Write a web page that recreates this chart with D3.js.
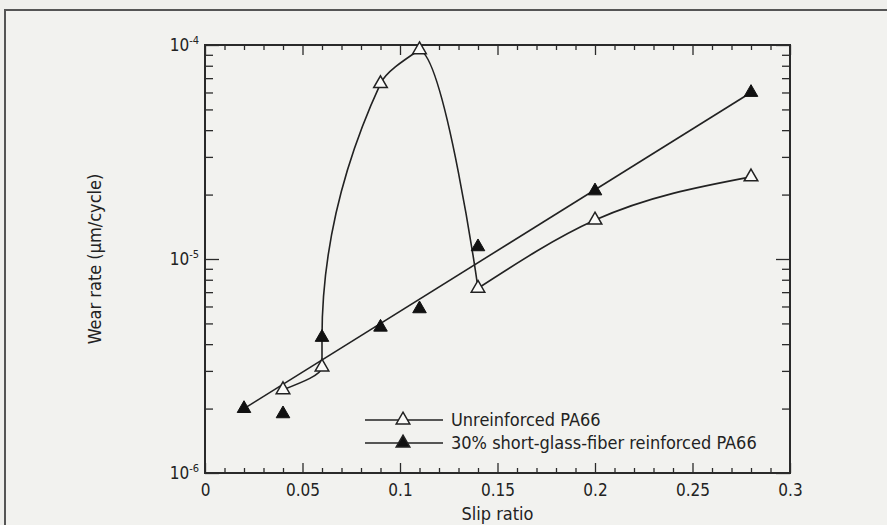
<!DOCTYPE html>
<html>
<head>
<meta charset="utf-8">
<script src="https://cdn.jsdelivr.net/npm/d3@7"></script>
<style>
  body { margin: 0; background: #efefec; }
  text { font-family: "DejaVu Sans Condensed", "Liberation Sans Narrow", sans-serif; fill: #222; }
</style>
</head>
<body>
<div id="wrapper"></div>
<script>
// unreinforced PA66 (open triangles)
const slipPlain = [0.04, 0.06, 0.09, 0.11, 0.14, 0.20, 0.28]
const wearPlain = [2.45e-6, 3.13e-6, 6.6e-5, 9.5e-5, 7.3e-6, 1.52e-5, 2.42e-5]

// 30% short-glass-fiber reinforced PA66 (filled triangles)
const slipGlass = [0.02, 0.04, 0.06, 0.09, 0.11, 0.14, 0.20, 0.28]
const wearGlass = [2.0e-6, 1.89e-6, 4.3e-6, 4.8e-6, 5.85e-6, 1.14e-5, 2.08e-5, 6.0e-5]

// straight fit line through the reinforced data
const fitSlip = [0.02, 0.28]
const fitWear = [2.0e-6, 6.0e-5]

const xMajor = [0, 0.05, 0.1, 0.15, 0.2, 0.25, 0.3]
const xLabels = ['0', '0.05', '0.1', '0.15', '0.2', '0.25', '0.3']
const yMajor = [1e-6, 1e-5, 1e-4]
const yExp = ['-6', '-5', '-4']
const legendNames = ['Unreinforced PA66', '30% short-glass-fiber reinforced PA66']

const width = 887, height = 525
const plotL = 205, plotR = 790, plotT = 45, plotB = 473

const svg = d3.select('#wrapper')
    .append('svg')
        .attr('width', width)
        .attr('height', height)

// outer frame of the figure
svg.append('rect')
    .attr('x', 5).attr('y', 10)
    .attr('width', width).attr('height', height)
    .attr('fill', '#f2f2ef')
    .attr('stroke', '#555')
    .attr('stroke-width', 2)

const x = d3.scaleLinear().domain([0, 0.3]).range([plotL, plotR])
const y = d3.scaleLog().domain([1e-6, 1e-4]).range([plotB, plotT])

const xMinor = d3.range(0, 0.3001, 0.01).filter(v => Math.abs(v / 0.05 - Math.round(v / 0.05)) > 1e-6)
const yMinor = y.ticks().filter(v => !yMajor.some(m => Math.abs(m - v) / m < 1e-6))

function styleAxis(g) {
    g.select('.domain').remove()
    g.selectAll('line').attr('stroke', '#2a2a2a').attr('stroke-width', 1.3)
}

// bottom
svg.append('g').attr('transform', `translate(0,${plotB})`)
    .call(d3.axisBottom(x).tickValues(xMinor).tickSize(-5).tickFormat(''))
    .call(styleAxis)
svg.append('g').attr('transform', `translate(0,${plotB})`)
    .call(d3.axisBottom(x).tickValues(xMajor).tickSize(-10).tickPadding(11)
        .tickFormat((d, i) => xLabels[i]))
    .call(styleAxis)
    .selectAll('text')
        .attr('font-size', 17)
        .attr('fill', '#222')
        .attr('font-family', '"DejaVu Sans Condensed", sans-serif')

// top
svg.append('g').attr('transform', `translate(0,${plotT})`)
    .call(d3.axisTop(x).tickValues(xMinor).tickSize(-5).tickFormat(''))
    .call(styleAxis)
svg.append('g').attr('transform', `translate(0,${plotT})`)
    .call(d3.axisTop(x).tickValues(xMajor).tickSize(-10).tickFormat(''))
    .call(styleAxis)

// left
svg.append('g').attr('transform', `translate(${plotL},0)`)
    .call(d3.axisLeft(y).tickValues(yMinor).tickSize(-8).tickFormat(''))
    .call(styleAxis)
svg.append('g').attr('transform', `translate(${plotL},0)`)
    .call(d3.axisLeft(y).tickValues(yMajor).tickSize(-14).tickFormat(''))
    .call(styleAxis)

// right
svg.append('g').attr('transform', `translate(${plotR},0)`)
    .call(d3.axisRight(y).tickValues(yMinor).tickSize(-8).tickFormat(''))
    .call(styleAxis)
svg.append('g').attr('transform', `translate(${plotR},0)`)
    .call(d3.axisRight(y).tickValues(yMajor).tickSize(-14).tickFormat(''))
    .call(styleAxis)

// plot border
svg.append('rect')
    .attr('x', plotL).attr('y', plotT)
    .attr('width', plotR - plotL).attr('height', plotB - plotT)
    .attr('fill', 'none')
    .attr('stroke', '#2a2a2a')
    .attr('stroke-width', 2)

// y tick labels 10^n
const yLab = svg.append('g').selectAll('text')
    .data(yMajor)
    .join('text')
        .attr('x', plotL - 6)
        .attr('y', d => y(d) + 6)
        .attr('text-anchor', 'end')
        .attr('font-size', 17)
yLab.append('tspan').text('10')
yLab.append('tspan')
    .attr('font-size', 11)
    .attr('dy', -7)
    .text((d, i) => yExp[i])

// axis titles
svg.append('text')
    .attr('x', (plotL + plotR) / 2)
    .attr('y', 520)
    .attr('text-anchor', 'middle')
    .attr('font-size', 18)
    .text('Slip ratio')

svg.append('text')
    .attr('transform', `translate(101,${(plotT + plotB) / 2}) rotate(-90)`)
    .attr('text-anchor', 'middle')
    .attr('font-size', 18)
    .text('Wear rate (\u00b5m/cycle)')

const plain = slipPlain.map((s, i) => [s, wearPlain[i]])
const glass = slipGlass.map((s, i) => [s, wearGlass[i]])
const fit = fitSlip.map((s, i) => [s, fitWear[i]])

const line = d3.line().x(d => x(d[0])).y(d => y(d[1]))

function stroke(p) {
    p.attr('fill', 'none').attr('stroke', '#222').attr('stroke-width', 1.6)
}

// reinforced fit line
svg.append('path')
    .attr('d', line(fit))
    .call(stroke)

// unreinforced curve: the hand-drawn rise goes straight up through the
// filled 0.06 marker, so that point is threaded in; y-monotone spline
const rise = [plain[0], plain[1], glass[2], plain[2], plain[3]]
svg.append('path')
    .attr('d', line.curve(d3.curveMonotoneY)(rise.slice().reverse()))
    .call(stroke)

// drop after the peak
svg.append('clipPath').attr('id', 'afterPeak')
    .append('rect')
        .attr('x', x(slipPlain[3])).attr('y', 0)
        .attr('width', plotR - x(slipPlain[3])).attr('height', height)
svg.append('path')
    .attr('clip-path', 'url(#afterPeak)')
    .attr('d', line.curve(d3.curveCatmullRom.alpha(0.5))(plain.slice(2, 5)))
    .call(stroke)

// tail
svg.append('path')
    .attr('d', line.curve(d3.curveMonotoneX)(plain.slice(4)))
    .call(stroke)

const tri = d3.symbol().type(d3.symbolTriangle).size(80)

svg.append('g').selectAll('path')
    .data(plain)
    .join('path')
        .attr('transform', d => `translate(${x(d[0])},${y(d[1])})`)
        .attr('d', tri)
        .attr('fill', '#fafaf8')
        .attr('stroke', '#222')
        .attr('stroke-width', 1.5)

svg.append('g').selectAll('path')
    .data(glass)
    .join('path')
        .attr('transform', d => `translate(${x(d[0])},${y(d[1])})`)
        .attr('d', tri)
        .attr('fill', '#111')
        .attr('stroke', '#111')
        .attr('stroke-width', 1)

// legend
const legend = svg.append('g')
legendNames.forEach((name, i) => {
    const ly = 420 + i * 23
    legend.append('line')
        .attr('x1', 365).attr('x2', 443)
        .attr('y1', ly).attr('y2', ly)
        .call(stroke)
    legend.append('path')
        .attr('transform', `translate(403,${ly})`)
        .attr('d', tri)
        .attr('fill', i === 0 ? '#fafaf8' : '#111')
        .attr('stroke', '#222')
        .attr('stroke-width', 1.5)
    legend.append('text')
        .attr('x', 451)
        .attr('y', ly + 6)
        .attr('font-size', 18)
        .text(name)
})
</script>
</body>
</html>
